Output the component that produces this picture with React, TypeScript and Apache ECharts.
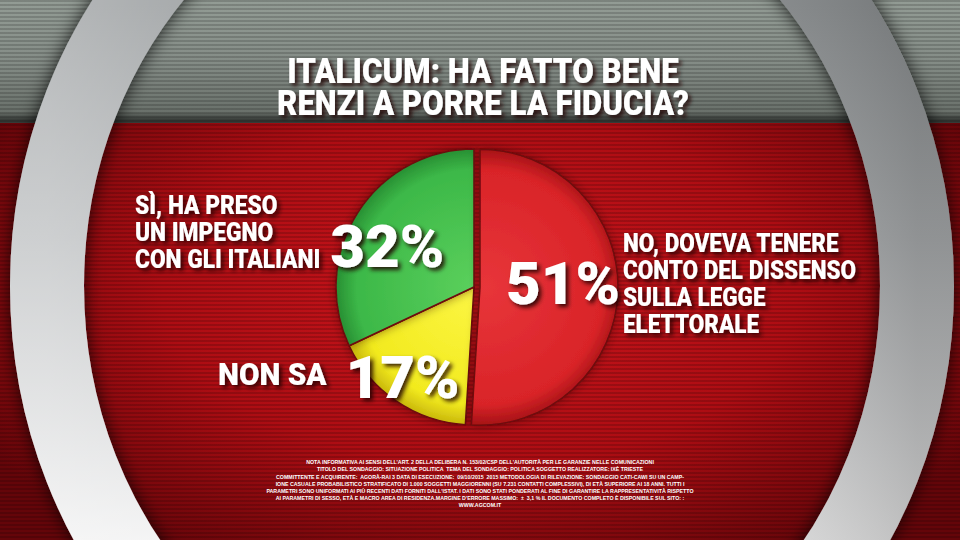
import React, { useEffect, useRef } from "react";
import * as echarts from "echarts";

// ---- data ----
const TITLE_LINES = ["ITALICUM: HA FATTO BENE", "RENZI A PORRE LA FIDUCIA?"];
const CATEGORY_LINES = [
  ["NO, DOVEVA TENERE", "CONTO DEL DISSENSO", "SULLA LEGGE", "ELETTORALE"],
  ["NON SA"],
  ["SÌ, HA PRESO", "UN IMPEGNO", "CON GLI ITALIANI"],
];
const CATEGORIES = CATEGORY_LINES.map((l) => l.join(" "));
const VALUES = [51, 17, 32];
const SLICE_COLORS = [
  ["#e8353a", "#d92428", "#a51216"],
  ["#fcf644", "#f2ea1e", "#c9b80c"],
  ["#5bd05c", "#3cb848", "#288f33"],
];
const FOOTNOTE = [
  "NOTA INFORMATIVA AI SENSI DELL'ART. 2 DELLA DELIBERA N. 153/02/CSP DELL'AUTORITÀ PER LE GARANZIE NELLE COMUNICAZIONI",
  "TITOLO DEL SONDAGGIO: SITUAZIONE POLITICA  TEMA DEL SONDAGGIO: POLITICA SOGGETTO REALIZZATORE: IXÈ TRIESTE",
  "COMMITTENTE E ACQUIRENTE:  AGORÀ-RAI 3 DATA DI ESECUZIONE:  09/10/2015  2015 METODOLOGIA DI RILEVAZIONE: SONDAGGIO CATI-CAWI SU UN CAMP-",
  "IONE CASUALE PROBABILISTICO STRATIFICATO DI 1.000 SOGGETTI MAGGIORENNI (SU 7.231 CONTATTI COMPLESSIVI), DI ETÀ SUPERIORE AI 18 ANNI. TUTTI I",
  "PARAMETRI SONO UNIFORMATI AI PIÙ RECENTI DATI FORNITI DALL'ISTAT. I DATI SONO STATI PONDERATI AL FINE DI GARANTIRE LA RAPPRESENTATIVITÀ RISPETTO",
  "AI PARAMETRI DI SESSO, ETÀ E MACRO AREA DI RESIDENZA.MARGINE D'ERRORE MASSIMO:  ±  3,1 % IL DOCUMENTO COMPLETO È DISPONIBILE SUL SITO: :",
  "WWW.AGCOM.IT",
];
// label nudges (dx, dy) from the default inside position
const LABEL_NUDGE = [
  [11, -6],
  [-31, 31],
  [-26, -2],
];

const PIE_CX = 474;
const PIE_CY = 287;
const PIE_R = 138;

const SHADOW = {
  textShadowColor: "rgba(30,0,0,0.85)",
  textShadowBlur: 4,
  textShadowOffsetX: 3,
  textShadowOffsetY: 3,
};

function textEl(text: string, x: number, y: number, size: number, scaleX: number, align = "left") {
  return {
    type: "text",
    x,
    y,
    scaleX,
    z: 10,
    style: {
      text,
      x: 0,
      y: 0,
      align,
      verticalAlign: "middle",
      fontFamily: "Roboto",
      fontWeight: 900,
      fontSize: size,
      fill: "#ffffff",
      ...SHADOW,
    },
  };
}

export default function App() {
  const ref = useRef<HTMLDivElement>(null);

  useEffect(() => {
    if (!ref.current) return;
    const chart = echarts.init(ref.current, null, { renderer: "svg" });

    const ringStroke = new echarts.graphic.LinearGradient(0, 0, 0, 1, [
      { offset: 0.2, color: "#8d9193" },
      { offset: 0.45, color: "#b3b6b8" },
      { offset: 0.68, color: "#dfe0e1" },
      { offset: 0.8, color: "#f6f6f6" },
    ]);
    const ringTint = new echarts.graphic.LinearGradient(0, 0, 1, 0, [
      { offset: 0, color: "rgba(255,255,255,0.35)" },
      { offset: 0.5, color: "rgba(255,255,255,0)" },
      { offset: 1, color: "rgba(40,40,40,0.25)" },
    ]);

    const graphics: any[] = [
      {
        type: "ellipse",
        z: 1,
        shape: { cx: 482, cy: 286, rx: 435, ry: 469 },
        style: {
          fill: "none",
          stroke: ringStroke,
          lineWidth: 74,
          shadowBlur: 18,
          shadowColor: "rgba(0,0,0,0.8)",
        },
      },
      {
        type: "ellipse",
        z: 2,
        shape: { cx: 482, cy: 286, rx: 435, ry: 469 },
        style: { fill: "none", stroke: ringTint, lineWidth: 74 },
      },
    ];

    // title
    graphics.push(textEl(TITLE_LINES[0], 483, 71, 35, 0.894, "center"));
    graphics.push(textEl(TITLE_LINES[1], 483, 103, 35, 0.89, "center"));

    // category texts
    CATEGORY_LINES[2].forEach((l, i) => graphics.push(textEl(l, 135, 206 + i * 27, 25, 0.91)));
    CATEGORY_LINES[0].forEach((l, i) => graphics.push(textEl(l, 623, 244 + i * 27, 25, 0.9)));
    graphics.push(textEl(CATEGORY_LINES[1][0], 218, 374, 32, 0.93));

    // footnote
    FOOTNOTE.forEach((l, i) =>
      graphics.push({
        type: "text",
        x: 480,
        y: 462 + i * 7.2,
        scaleX: 0.88,
        z: 10,
        style: {
          text: l,
          x: 0,
          y: 0,
          align: "center",
          verticalAlign: "middle",
          fontFamily: "Liberation Sans",
          fontWeight: 700,
          fontSize: 6,
          fill: "#ffffff",
        },
      })
    );

    const data = VALUES.map((v, i) => ({
      value: v,
      name: CATEGORIES[i],
      selected: i === 0,
      itemStyle: {
        color: new echarts.graphic.RadialGradient(
          PIE_CX + (i === 0 ? 6 : 0),
          PIE_CY,
          PIE_R,
          [
            { offset: 0, color: SLICE_COLORS[i][0] },
            { offset: 0.85, color: SLICE_COLORS[i][1] },
            { offset: 1, color: SLICE_COLORS[i][2] },
          ],
          true
        ),
      },
    }));

    chart.setOption({
      animation: false,
      backgroundColor: "transparent",
      graphic: graphics,
      series: [
        {
          type: "pie",
          center: [PIE_CX, PIE_CY],
          radius: [0, PIE_R],
          startAngle: 90,
          clockwise: true,
          selectedMode: "single",
          selectedOffset: 6,
          silent: true,
          data,
          itemStyle: {
            borderColor: "#6e0a0c",
            borderWidth: 1.5,
            shadowBlur: 10,
            shadowColor: "rgba(40,0,0,0.5)",
          },
          label: {
            show: true,
            position: "inside",
            formatter: "{c}%",
            fontFamily: "Roboto",
            fontWeight: 900,
            fontSize: 60,
            color: "#ffffff",
            ...SHADOW,
          },
          labelLine: { show: false },
          labelLayout: (p: any) => ({ dx: LABEL_NUDGE[p.dataIndex][0], dy: LABEL_NUDGE[p.dataIndex][1] }),
        },
      ],
    });

    return () => chart.dispose();
  }, []);

  const bg = [
    "repeating-linear-gradient(180deg, rgba(0,0,0,0.16) 0px, rgba(0,0,0,0.16) 1.5px, rgba(0,0,0,0) 1.5px, rgba(0,0,0,0) 4px)",
    "linear-gradient(180deg, #939c95 0px, #858d87 60px, #6a716b 112px, #363a37 120px, #363a37 123px) 0 0 / 100% 123px no-repeat",
    "radial-gradient(ellipse 60% 75% at 50% 40%, #cc151c 0%, #ad0d13 55%, #640509 100%) 0 123px / 100% 417px no-repeat",
  ].join(", ");

  return (
    <div
      ref={ref}
      style={{ position: "absolute", left: 0, top: 0, width: 960, height: 540, background: bg }}
    />
  );
}
